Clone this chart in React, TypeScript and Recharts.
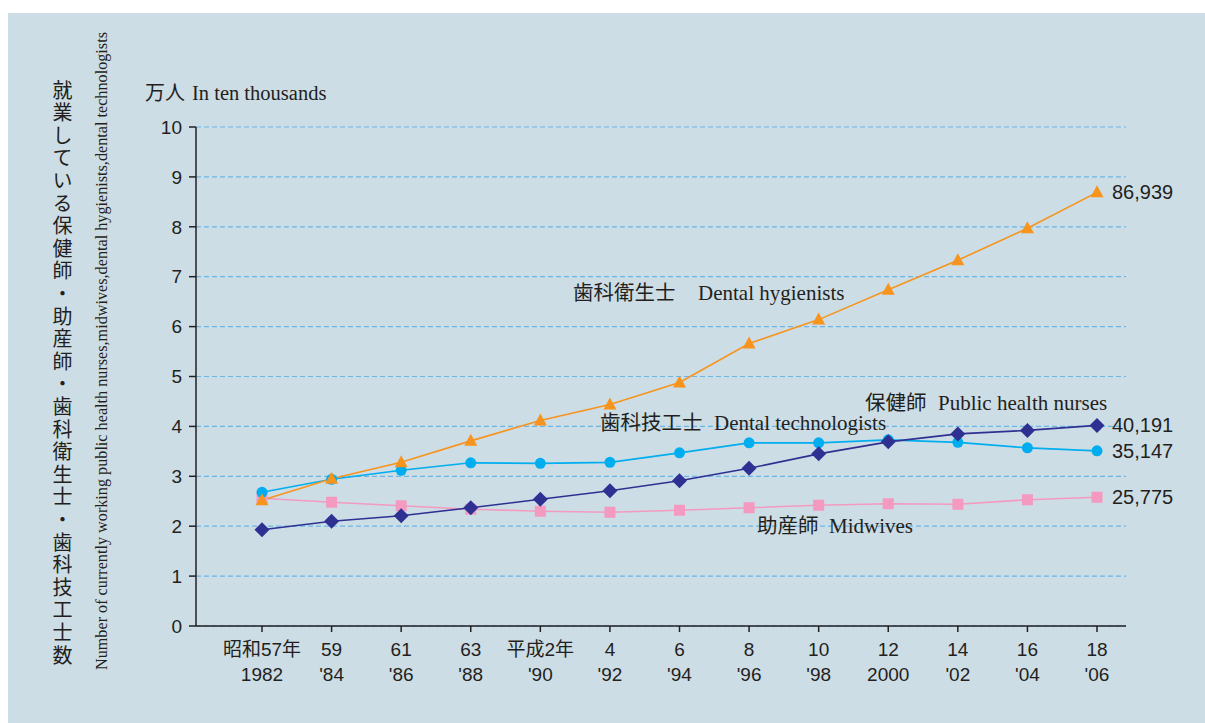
import React from "react";
import { CartesianGrid, LabelList, Line, LineChart, XAxis, YAxis } from "recharts";

const eraLabels = ["昭和57年", "59", "61", "63", "平成2年", "4", "6", "8", "10", "12", "14", "16", "18"];
const yearLabels = ["1982", "'84", "'86", "'88", "'90", "'92", "'94", "'96", "'98", "2000", "'02", "'04", "'06"];

// 万人 (ten thousands)
const dentalHygienists = [2.52, 2.95, 3.28, 3.71, 4.12, 4.44, 4.88, 5.66, 6.14, 6.74, 7.33, 7.97, 8.69];
const publicHealthNurses = [1.93, 2.1, 2.21, 2.37, 2.54, 2.71, 2.91, 3.16, 3.45, 3.69, 3.85, 3.92, 4.02];
const dentalTechnologists = [2.68, 2.94, 3.12, 3.27, 3.26, 3.28, 3.47, 3.67, 3.67, 3.73, 3.68, 3.57, 3.51];
const midwives = [2.56, 2.48, 2.41, 2.34, 2.3, 2.28, 2.32, 2.37, 2.42, 2.45, 2.44, 2.53, 2.58];

const endLabels = {
  hygienists: "86,939",
  nurses: "40,191",
  technologists: "35,147",
  midwives: "25,775",
};

const yTicks = [0, 1, 2, 3, 4, 5, 6, 7, 8, 9, 10];

const data = eraLabels.map((era, i) => ({
  idx: i,
  era,
  year: yearLabels[i],
  hygienists: dentalHygienists[i],
  nurses: publicHealthNurses[i],
  technologists: dentalTechnologists[i],
  midwives: midwives[i],
}));

const INK = "#231f20";
const PANEL = "#cddde5";
const SANS = "'Liberation Sans', Arial, sans-serif";
const JP = "'Noto Sans CJK JP', sans-serif";
const SERIF = "'Liberation Serif', 'Times New Roman', serif";

// panel colour right up to the page edge, white strip above and to the left
const pageCss = `html { background:
  linear-gradient(to bottom, #fff 13px, transparent 13px),
  linear-gradient(to right, #fff 8px, ${PANEL} 8px); }`;

const XTick = (props: any) => {
  const { x, y, payload } = props;
  const i = payload.value as number;
  return (
    <text x={x} y={y} textAnchor="middle" fill={INK} fontSize={19} fontFamily={`${SANS}, ${JP}`}>
      <tspan x={x} dy={22}>{eraLabels[i]}</tspan>
      <tspan x={x} dy={25}>{yearLabels[i]}</tspan>
    </text>
  );
};

const Triangle = (props: any) => {
  const { cx, cy } = props;
  if (cx == null || cy == null) return null;
  return <polygon points={`${cx},${cy - 7} ${cx + 6.5},${cy + 5} ${cx - 6.5},${cy + 5}`} fill="#f7941d" />;
};

const Diamond = (props: any) => {
  const { cx, cy } = props;
  if (cx == null || cy == null) return null;
  return <polygon points={`${cx},${cy - 7.5} ${cx + 7.5},${cy} ${cx},${cy + 7.5} ${cx - 7.5},${cy}`} fill="#2e3192" />;
};

const Dot = (props: any) => {
  const { cx, cy } = props;
  if (cx == null || cy == null) return null;
  return <circle cx={cx} cy={cy} r={5.5} fill="#00aeef" />;
};

const Square = (props: any) => {
  const { cx, cy } = props;
  if (cx == null || cy == null) return null;
  return <rect x={cx - 5.5} y={cy - 5.5} width={11} height={11} fill="#f49ac1" />;
};

const endLabel = (text: string) => (props: any) => {
  const { x, y, index } = props;
  if (index !== data.length - 1) return null;
  return (
    <text x={x + 15} y={y + 7} fill={INK} fontSize={20} fontFamily={SANS}>
      {text}
    </text>
  );
};

// series name tags placed inside the plot
const SeriesTag = ({ x, xEn, y, jp, en }: { x: number; xEn: number; y: number; jp: string; en: string }) => (
  <text y={y} fill={INK}>
    <tspan x={x} fontFamily={JP} fontSize={20.5}>{jp}</tspan>
    <tspan x={xEn} fontFamily={SERIF} fontSize={21}>{en}</tspan>
  </text>
);

export default function App() {
  return (
    <>
      <style>{pageCss}</style>
      <div style={{ position: "absolute", left: 8, top: 13, width: 1197, height: 710, background: PANEL }}>
        <LineChart
          width={1197}
          height={710}
          data={data}
          margin={{ top: 114, right: 79, left: 148, bottom: 37 }}
        >
          <CartesianGrid horizontal vertical={false} stroke="#6cb6e6" strokeDasharray="5 3" strokeWidth={1.2} />
          <XAxis
            dataKey="idx"
            type="category"
            height={60}
            padding={{ left: 66, right: 29 }}
            tick={<XTick />}
            tickSize={6}
            tickMargin={2}
            axisLine={{ stroke: INK, strokeWidth: 1.5 }}
            tickLine={{ stroke: INK, strokeWidth: 1.5 }}
            interval={0}
          />
          <YAxis
            width={40}
            domain={[0, 10]}
            ticks={yTicks}
            interval={0}
            tickSize={7}
            tickMargin={7}
            tick={{ fill: INK, fontSize: 19, fontFamily: SANS }}
            axisLine={{ stroke: INK, strokeWidth: 1.5 }}
            tickLine={{ stroke: INK, strokeWidth: 1.5 }}
          />
          <Line dataKey="midwives" type="linear" stroke="#f49ac1" strokeWidth={1.6} dot={<Square />} isAnimationActive={false}>
            <LabelList dataKey="midwives" content={endLabel(endLabels.midwives)} />
          </Line>
          <Line dataKey="technologists" type="linear" stroke="#00aeef" strokeWidth={1.6} dot={<Dot />} isAnimationActive={false}>
            <LabelList dataKey="technologists" content={endLabel(endLabels.technologists)} />
          </Line>
          <Line dataKey="nurses" type="linear" stroke="#2e3192" strokeWidth={1.6} dot={<Diamond />} isAnimationActive={false}>
            <LabelList dataKey="nurses" content={endLabel(endLabels.nurses)} />
          </Line>
          <Line dataKey="hygienists" type="linear" stroke="#f7941d" strokeWidth={1.6} dot={<Triangle />} isAnimationActive={false}>
            <LabelList dataKey="hygienists" content={endLabel(endLabels.hygienists)} />
          </Line>
        </LineChart>

        <svg width={1197} height={710} style={{ position: "absolute", left: 0, top: 0, pointerEvents: "none" }}>
          <text y={87} fill={INK}>
            <tspan x={137} fontFamily={JP} fontSize={20}>万人</tspan>
            <tspan x={184} fontFamily={SERIF} fontSize={20.5}>In ten thousands</tspan>
          </text>
          <SeriesTag x={565} xEn={690} y={287} jp="歯科衛生士" en="Dental hygienists" />
          <SeriesTag x={857} xEn={930} y={397} jp="保健師" en="Public health nurses" />
          <SeriesTag x={592} xEn={706} y={417} jp="歯科技工士" en="Dental technologists" />
          <SeriesTag x={749} xEn={821} y={520} jp="助産師" en="Midwives" />
          <text
            x={99}
            y={657}
            transform="rotate(-90 99 657)"
            fill={INK}
            fontSize={16.2}
            fontFamily={SERIF}
          >
            Number of currently working public health nurses,midwives,dental hygienists,dental technologists
          </text>
        </svg>

        <div
          style={{
            position: "absolute",
            left: 44,
            top: 67,
            writingMode: "vertical-rl",
            fontFamily: JP,
            fontSize: 20,
            letterSpacing: 2.6,
            color: INK,
            lineHeight: 1,
            whiteSpace: "nowrap",
          }}
        >
          就業している保健師・助産師・歯科衛生士・歯科技工士数
        </div>
      </div>
    </>
  );
}
